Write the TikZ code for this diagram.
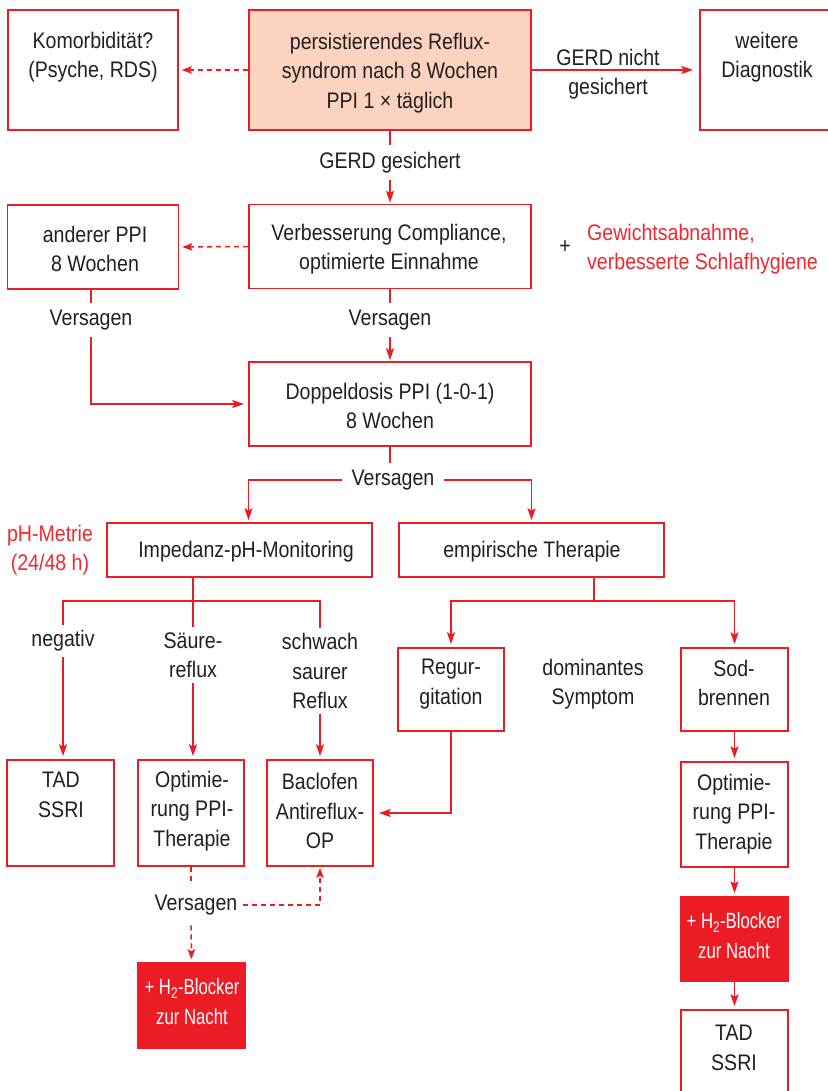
\documentclass[tikz,border=0pt]{standalone}
\usepackage{fontspec}
\setmainfont{Liberation Sans}[FakeStretch=0.87]
\newfontfamily\condfont{Liberation Sans}[FakeStretch=0.76]
\usetikzlibrary{arrows.meta}
\definecolor{lred}{HTML}{EC1C24}
\definecolor{tred}{HTML}{EE2A30}
\definecolor{tgray}{HTML}{231F20}
\definecolor{peach}{HTML}{FCD3C1}
\begin{document}
\begin{tikzpicture}[x=1pt,y=-1pt,
  box/.style={draw=lred, line width=1.6pt, inner sep=0pt},
  fillbox/.style={box, fill=lred},
  txt/.style={inner sep=0pt, align=center, text=tgray, font=\fontsize{22.5}{29.5}\selectfont},
  wtxt/.style={txt, text=white, font=\condfont\fontsize{22}{30}\selectfont},
  rtxt/.style={txt, text=tred},
  lab/.style={txt, inner xsep=6pt, inner ysep=7pt},
  ln/.style={draw=lred, line width=1.5pt},
  arr/.style={ln, -{Stealth[length=12pt,width=8pt,inset=2.5pt]}, shorten >=3pt},
  dsh/.style={ln, dash pattern=on 5pt off 4pt},
  darr/.style={dsh, -{Stealth[length=10pt,width=7.5pt,inset=2pt]}, shorten >=3pt}]
\useasboundingbox (0,0) rectangle (827,1091);
\fill[white] (0,0) rectangle (827,1091);

% top row
\node[box, minimum width=170pt, minimum height=120pt] (kom) at (93,70) {};
\node[txt] (komt) at (93,57) {Komorbidität?\\(Psyche, RDS)};
\node[box, fill=peach, minimum width=282pt, minimum height=120pt] (main) at (390,70) {};
\node[txt] (maint) at (390,73) {persistierendes Reflux-\\syndrom nach 8 Wochen\\PPI 1 × täglich};
\node[box, minimum width=135pt, minimum height=120pt] (weit) at (767.5,70) {};
\node[txt] (weitt) at (767,57) {weitere\\Diagnostik};
\draw[darr] (main.west) -- (kom.east);
\draw[arr, shorten >=6pt] (main.east) -- (weit.west);
\node[txt] (gn) at (608,74) {GERD nicht\\gesichert};

\node[lab] (gg) at (390,162.5) {GERD gesichert};

% second row
\node[box, minimum width=171pt, minimum height=84pt] (andr) at (93,247) {};
\node[txt] (andrt) at (95,249) {anderer PPI\\8 Wochen};
\node[box, minimum width=282pt, minimum height=84pt] (verb) at (390,246.5) {};
\node[txt] (verbt) at (389,249) {Verbesserung Compliance,\\optimierte Einnahme};
\node[txt] (plus) at (565,247) {+};
\node[rtxt, anchor=west, align=left] (lifes) at (587,249) {Gewichtsabnahme,\\verbesserte Schlafhygiene};
\draw[ln] (main.south) -- (gg);
\draw[arr, shorten >=1pt] (gg) -- (verb.north);
\draw[darr] (verb.west) -- (andr.east);

\node[lab] (v1) at (91,320) {Versagen};
\node[lab] (v2) at (390,320) {Versagen};
\node[box, minimum width=282pt, minimum height=84pt] (dop) at (390,404) {};
\node[txt] (dopt) at (390,406) {Doppeldosis PPI (1-0-1)\\8 Wochen};
\draw[ln] (andr.south -| v1) -- (v1);
\draw[arr, shorten >=4pt] (v1) |- (dop.west);
\draw[ln] (verb.south) -- (v2);
\draw[arr, shorten >=1pt] (v2) -- (dop.north);

\node[lab, inner xsep=9pt] (v3) at (393,480) {Versagen};
\draw[ln] (dop.south) -- (v3.north -| dop.south);

% third row
\node[rtxt] (ph) at (50,550) {pH-Metrie\\(24/48 h)};
\node[box, minimum width=265pt, minimum height=54pt] (imp) at (239.5,550) {};
\node[txt] (impt) at (246,552) {Impedanz-pH-Monitoring};
\node[box, minimum width=265pt, minimum height=54pt] (emp) at (531.5,550) {};
\node[txt] (empt) at (532,552) {empirische Therapie};
\draw[arr, shorten >=2pt] (v3.west) -| ([xshift=9pt]imp.north);
\draw[arr, shorten >=2pt] (v3.east) -| (emp.north);

\node[lab, inner ysep=5pt] (neg) at (63,641) {negativ};
\node[lab, inner ysep=5pt] (saeu) at (193,655) {Säure-\\reflux};
\node[lab, inner ysep=5pt] (schw) at (320,671) {schwach\\saurer\\Reflux};
\coordinate (impb) at (193,601);
\draw[ln] (imp.south -| saeu) -- (saeu);
\draw[ln] (neg) |- (impb) -| (schw);

\coordinate (empb) at (594,601);
\node[box, minimum width=106pt, minimum height=83pt] (regur) at (451,689.5) {};
\node[txt] (regurt) at (451,684) {Regur-\\gitation};
\node[txt] (dom) at (593,684) {dominantes\\Symptom};
\node[box, minimum width=107pt, minimum height=83pt] (sod) at (734.5,689.5) {};
\node[txt] (sodt) at (734,683) {Sod-\\brennen};
\draw[ln] (emp.south -| empb) -- (empb);
\draw[arr] (empb) -| (regur.north);
\draw[arr] (empb) -| (sod.north);

% fourth row left
\node[box, minimum width=107pt, minimum height=106pt] (tad1) at (60.5,813) {};
\node[txt] (tad1t) at (61,795) {TAD\\SSRI};
\node[box, minimum width=106pt, minimum height=106pt] (opt1) at (191,813) {};
\node[txt] (opt1t) at (192,811) {Optimie-\\rung PPI-\\Therapie};
\node[box, minimum width=106pt, minimum height=106pt] (bac) at (320,813) {};
\node[txt] (bact) at (320,811) {Baclofen\\Antireflux-\\OP};
\draw[arr] (neg) -- (neg |- tad1.north);
\draw[arr] (saeu) -- (saeu |- opt1.north);
\draw[arr] (schw) -- (schw |- bac.north);
\draw[arr, shorten >=5pt] (regur.south) |- (bac.east);

\node[lab, inner xsep=5pt, inner ysep=10pt] (v4) at (196,905) {Versagen};
\node[fillbox, minimum width=107pt, minimum height=85pt] (h2a) at (191.5,1005.5) {};
\node[wtxt] (h2at) at (192,1002) {+ H\textsubscript{2}-Blocker\\zur Nacht};
\draw[dsh] (opt1.south) -- (opt1.south |- v4.north);
\draw[darr] (opt1.south |- v4.south) -- (h2a.north);
\draw[darr, shorten >=1pt] (v4.east) -| (bac.south);

% right column
\node[box, minimum width=107pt, minimum height=105pt] (opt2) at (734.5,814.5) {};
\node[txt] (opt2t) at (734,814) {Optimie-\\rung PPI-\\Therapie};
\node[fillbox, minimum width=107pt, minimum height=84pt] (h2b) at (734.5,939) {};
\node[wtxt] (h2bt) at (734,936) {+ H\textsubscript{2}-Blocker\\zur Nacht};
\node[box, minimum width=107pt, minimum height=86pt] (tad2) at (734.5,1053) {};
\node[txt] (tad2t) at (734,1048) {TAD\\SSRI};
\draw[arr] (sod.south) -- (opt2.north);
\draw[arr] (opt2.south) -- (h2b.north);
\draw[arr] (h2b.south) -- (tad2.north);
\end{tikzpicture}
\end{document}
